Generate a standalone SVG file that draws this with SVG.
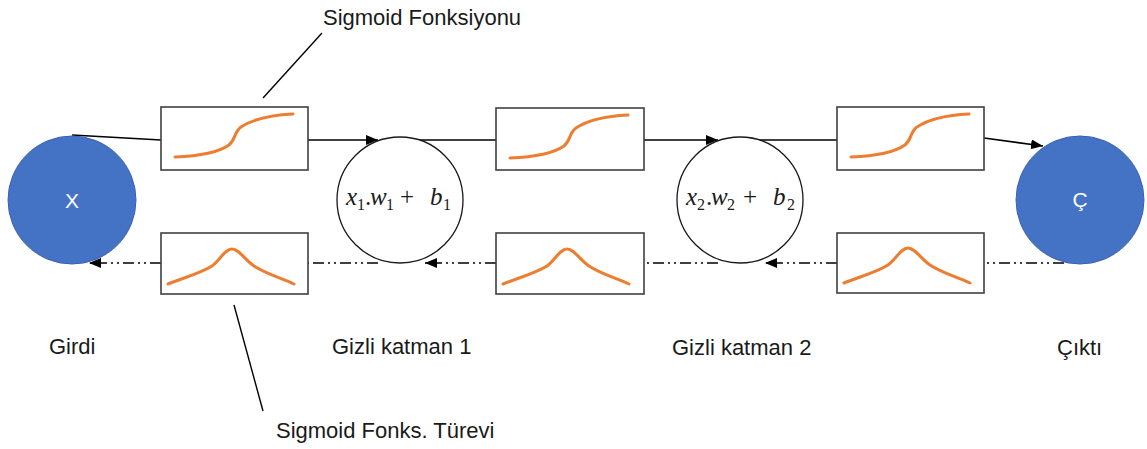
<svg xmlns="http://www.w3.org/2000/svg" width="1147" height="449" viewBox="0 0 1147 449">
<style>
.lbl{font-family:"Liberation Sans",Arial,sans-serif;font-size:22px;fill:#1a1a1a}
.inlbl{font-family:"Liberation Sans",Arial,sans-serif;font-size:21px;fill:#ffffff;text-anchor:middle}
.box{fill:#ffffff;stroke:#404040;stroke-width:1.6}
.curve{fill:none;stroke:#ed7d31;stroke-width:3;stroke-linecap:round;stroke-linejoin:round}
.blue{fill:#4472c4;stroke:#3a65b4;stroke-width:1}
.sum{fill:#ffffff;stroke:#1a1a1a;stroke-width:1.3}
.math{font-family:"Liberation Serif","DejaVu Serif",serif;font-size:25px;fill:#1a1a1a}
.it{font-style:italic}
.sub{font-size:16px}
.solid{fill:none;stroke:#000;stroke-width:1.6}
.dd{fill:none;stroke:#000;stroke-width:1.6;stroke-dasharray:11 4 2 4 2 4}
.lead{fill:none;stroke:#000;stroke-width:1.4}
</style>
<defs>
<marker id="ah" markerUnits="userSpaceOnUse" markerWidth="13" markerHeight="11" refX="12" refY="5" orient="auto">
<path d="M0,0 L12,5 L0,10 z" fill="#000"/>
</marker>
<path id="sig" d="M14,50 C38,49 58,45 68,38 C75,32 73,25 80,20 C92,12 112,8 132,7"/>
<path id="bell" d="M7,51 C25,44 40,40 51,33 C59,27 64,16 71,16 C78,16 84,27 93,33 C105,41 120,45 133,51"/>
</defs>

<g id="connectors">
<path class="solid" d="M72,135 L161,140"/>
<path class="solid" d="M308,140 L378,140" marker-end="url(#ah)"/>
<path class="solid" d="M419,140 L496,140"/>
<path class="solid" d="M644,140 L718,140" marker-end="url(#ah)"/>
<path class="solid" d="M759,140 L837,140"/>
<path class="solid" d="M984,138 L1043,146" marker-end="url(#ah)"/>
<path class="dd" d="M1064,263 L984,263"/>
<path class="dd" d="M837,263 L765,263" marker-end="url(#ah)"/>
<path class="dd" d="M718,263 L644,263"/>
<path class="dd" d="M496,263 L425,263" marker-end="url(#ah)"/>
<path class="dd" d="M378,263 L308,263"/>
<path class="dd" d="M161,263 L89,263" marker-end="url(#ah)"/>
<path class="lead" d="M322,33 L263,98"/>
<path class="lead" d="M234,305 L263,411"/>
</g>

<g id="input">
<circle class="blue" cx="72" cy="200" r="64"/>
<text class="inlbl" x="72" y="208">X</text>
</g>

<g id="sig1">
<rect class="box" x="161" y="107" width="147" height="63"/>
<use href="#sig" class="curve" x="161" y="107"/>
</g>
<g id="dsig1">
<rect class="box" x="161" y="233" width="147" height="61"/>
<use href="#bell" class="curve" x="161" y="233"/>
</g>

<g id="hidden1">
<circle class="sum" cx="400" cy="200" r="63"/>
<text class="math"><tspan class="it" x="346" y="205">x</tspan><tspan class="sub" x="357" y="210">1</tspan><tspan x="365" y="205">.</tspan><tspan class="it" x="370" y="205">w</tspan><tspan class="sub" x="386" y="210">1</tspan><tspan x="400" y="205">+</tspan><tspan class="it" x="430" y="205">b</tspan><tspan class="sub" x="443" y="210">1</tspan></text>
</g>

<g id="sig2">
<rect class="box" x="496" y="108" width="148" height="62"/>
<use href="#sig" class="curve" x="496" y="108"/>
</g>
<g id="dsig2">
<rect class="box" x="496" y="233" width="148" height="61"/>
<use href="#bell" class="curve" x="496" y="233"/>
</g>

<g id="hidden2">
<circle class="sum" cx="740" cy="200" r="63"/>
<text class="math"><tspan class="it" x="686" y="205">x</tspan><tspan class="sub" x="697" y="210">2</tspan><tspan x="706" y="205">.</tspan><tspan class="it" x="711" y="205">w</tspan><tspan class="sub" x="727" y="210">2</tspan><tspan x="743" y="205">+</tspan><tspan class="it" x="773" y="205">b</tspan><tspan class="sub" x="787" y="210">2</tspan></text>
</g>

<g id="sig3">
<rect class="box" x="837" y="107" width="147" height="63"/>
<use href="#sig" class="curve" x="837" y="107"/>
</g>
<g id="dsig3">
<rect class="box" x="837" y="233" width="147" height="60"/>
<use href="#bell" class="curve" x="837" y="232"/>
</g>

<g id="output">
<circle class="blue" cx="1080" cy="200" r="64"/>
<text class="inlbl" x="1080" y="207">Ç</text>
</g>

<g id="labels">
<text class="lbl" x="323" y="25">Sigmoid Fonksiyonu</text>
<text class="lbl" x="49" y="354">Girdi</text>
<text class="lbl" x="332" y="354">Gizli katman 1</text>
<text class="lbl" x="672" y="355">Gizli katman 2</text>
<text class="lbl" x="1057" y="355">Çıktı</text>
<text class="lbl" x="276" y="438">Sigmoid Fonks. Türevi</text>
</g>
</svg>
